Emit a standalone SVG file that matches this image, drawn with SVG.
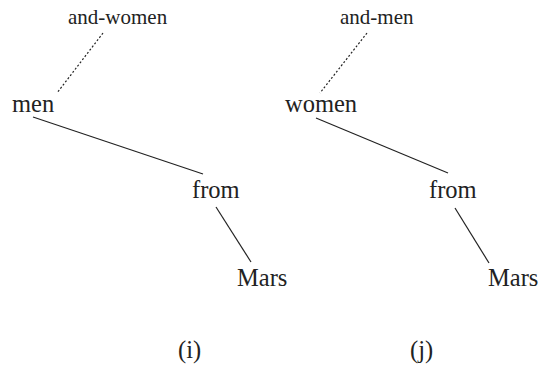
<svg xmlns="http://www.w3.org/2000/svg" width="541" height="379" viewBox="0 0 541 379">
<style>
text{font-family:"Liberation Serif","Times New Roman",serif;fill:#222}
.w{font-size:24.5px}
.s{font-size:21px}
.e{stroke:#222;stroke-width:1.2;fill:none}
.d{stroke-dasharray:2 2}
</style>
<rect width="541" height="379" fill="#fff"/>
<g id="connectors">
<line class="e d" x1="103" y1="33" x2="57" y2="93"/>
<line class="e" x1="33" y1="117" x2="203" y2="174"/>
<line class="e" x1="216" y1="207" x2="251" y2="262"/>
<line class="e d" x1="367" y1="33" x2="320" y2="93"/>
<line class="e" x1="316" y1="118" x2="448" y2="173"/>
<line class="e" x1="455" y1="208" x2="489" y2="263"/>
</g>
<g id="and-women"><text class="s" x="68" y="24">and-women</text></g>
<g id="men"><text class="w" x="12" y="112">men</text></g>
<g id="from1"><text class="w" x="192" y="198">from</text></g>
<g id="mars1"><text class="w" x="237" y="286">Mars</text></g>
<g id="and-men"><text class="s" x="340" y="24">and-men</text></g>
<g id="women"><text class="w" x="285" y="112">women</text></g>
<g id="from2"><text class="w" x="429" y="198">from</text></g>
<g id="mars2"><text class="w" x="488" y="286">Mars</text></g>
<g id="label-i"><text class="w" x="178" y="358">(i)</text></g>
<g id="label-j"><text class="w" x="410" y="358">(j)</text></g>
</svg>
